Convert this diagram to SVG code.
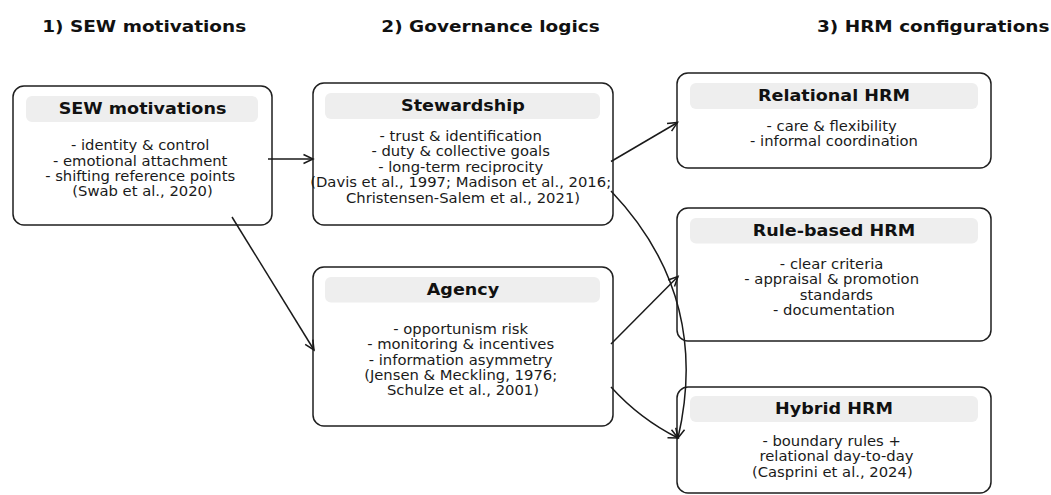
<svg xmlns="http://www.w3.org/2000/svg" width="1051" height="495" viewBox="0 0 1051 495">
  <defs>
    <style>
      .box { fill: #ffffff; stroke: #1f1f1f; stroke-width: 1.5; }
      .head { fill: #eeeeee; stroke: none; }
      .title { font-family: "DejaVu Sans", "Noto Sans", sans-serif; font-weight: bold; font-size: 16.5px; fill: #111111; }
      .htxt { font-family: "DejaVu Sans", "Noto Sans", sans-serif; font-weight: bold; font-size: 15.7px; fill: #111111; text-anchor: middle; }
      .body { font-family: "DejaVu Sans", "Noto Sans", sans-serif; font-size: 13.2px; fill: #1a1a1a; text-anchor: middle; }
      .link { fill: none; stroke: #1a1a1a; stroke-width: 1.5; marker-end: url(#arrow); }
    </style>
    <marker id="arrow" markerUnits="userSpaceOnUse" markerWidth="14" markerHeight="14" refX="10" refY="5" orient="auto" viewBox="0 0 14 10" overflow="visible">
      <path d="M0.5,0.5 L10,5 L0.5,9.5" fill="none" stroke="#1a1a1a" stroke-width="1.5" stroke-linejoin="miter"/>
    </marker>
  </defs>

  <!-- column titles (text widened horizontally to match layout) -->
  <g id="column-titles">
    <g transform="translate(144.2,32) scale(1.12,1)"><text class="title" text-anchor="middle" x="0" y="0">1) SEW motivations</text></g>
    <g transform="translate(490.5,32) scale(1.12,1)"><text class="title" text-anchor="middle" x="0" y="0">2) Governance logics</text></g>
    <g transform="translate(1049.5,32) scale(1.12,1)"><text class="title" text-anchor="end" x="0" y="0">3) HRM configurations</text></g>
  </g>

  <!-- SEW motivations -->
  <g id="node-sew">
    <rect class="box" x="13" y="86" width="259" height="139" rx="11"/>
    <rect class="head" x="26" y="96" width="232" height="26" rx="6"/>
    <g transform="translate(142.5,0) scale(1.12,1)">
      <text class="htxt" x="0" y="114.5">SEW motivations</text>
      <text class="body">
        <tspan x="0" y="150.5">- identity &amp; control</tspan>
        <tspan x="0" y="165.8">- emotional attachment</tspan>
        <tspan x="0" y="181.1">- shifting reference points</tspan>
        <tspan x="0" y="196.4">(Swab et al., 2020)</tspan>
      </text>
    </g>
  </g>

  <!-- Stewardship -->
  <g id="node-stewardship">
    <rect class="box" x="313" y="83" width="300" height="142" rx="11"/>
    <rect class="head" x="325" y="93" width="275" height="26" rx="6"/>
    <g transform="translate(463,0) scale(1.12,1)">
      <text class="htxt" x="0" y="111.5">Stewardship</text>
      <text class="body">
        <tspan x="0" y="141">- trust &amp; identification</tspan>
        <tspan x="0" y="156.5">- duty &amp; collective goals</tspan>
        <tspan x="0" y="172">- long-term reciprocity</tspan>
        <tspan x="0" y="187.5">(Davis et al., 1997; Madison et al., 2016;</tspan>
        <tspan x="0" y="203">Christensen-Salem et al., 2021)</tspan>
      </text>
    </g>
  </g>

  <!-- Agency -->
  <g id="node-agency">
    <rect class="box" x="313" y="267" width="300" height="159" rx="11"/>
    <rect class="head" x="325" y="277" width="275" height="25.5" rx="6"/>
    <g transform="translate(463,0) scale(1.12,1)">
      <text class="htxt" x="0" y="295.5">Agency</text>
      <text class="body">
        <tspan x="0" y="334">- opportunism risk</tspan>
        <tspan x="0" y="349.3">- monitoring &amp; incentives</tspan>
        <tspan x="0" y="364.6">- information asymmetry</tspan>
        <tspan x="0" y="379.9">(Jensen &amp; Meckling, 1976;</tspan>
        <tspan x="0" y="395.2">Schulze et al., 2001)</tspan>
      </text>
    </g>
  </g>

  <!-- Relational HRM -->
  <g id="node-relational">
    <rect class="box" x="677" y="73" width="314" height="95" rx="11"/>
    <rect class="head" x="690" y="83" width="288" height="26" rx="6"/>
    <g transform="translate(834,0) scale(1.12,1)">
      <text class="htxt" x="0" y="101.5">Relational HRM</text>
      <text class="body">
        <tspan x="0" y="130.8">- care &amp; flexibility</tspan>
        <tspan x="0" y="146.1">- informal coordination</tspan>
      </text>
    </g>
  </g>

  <!-- Rule-based HRM -->
  <g id="node-rulebased">
    <rect class="box" x="677" y="208" width="314" height="133" rx="11"/>
    <rect class="head" x="690" y="218" width="288" height="25.5" rx="6"/>
    <g transform="translate(834,0) scale(1.12,1)">
      <text class="htxt" x="0" y="236.5">Rule-based HRM</text>
      <text class="body">
        <tspan x="0" y="269.2">- clear criteria</tspan>
        <tspan x="0" y="284.5">- appraisal &amp; promotion</tspan>
        <tspan x="4.3" y="299.8">standards</tspan>
        <tspan x="0" y="315.1">- documentation</tspan>
      </text>
    </g>
  </g>

  <!-- Hybrid HRM -->
  <g id="node-hybrid">
    <rect class="box" x="677" y="387" width="314" height="106" rx="11"/>
    <rect class="head" x="690" y="396" width="288" height="26" rx="6"/>
    <g transform="translate(834,0) scale(1.12,1)">
      <text class="htxt" x="0" y="414.5">Hybrid HRM</text>
      <text class="body">
        <tspan x="0" y="446">- boundary rules +</tspan>
        <tspan x="4.3" y="461.3">relational day-to-day</tspan>
        <tspan x="-1.5" y="476.6">(Casprini et al., 2024)</tspan>
      </text>
    </g>
  </g>

  <!-- connectors -->
  <g id="connectors">
    <path class="link" d="M268,159 L313,159"/>
    <path class="link" d="M232,217 L314,350"/>
    <path class="link" d="M611,161.5 L677.5,122.5"/>
    <path class="link" d="M611,191 Q711,296 678,438"/>
    <path class="link" d="M611,344 L678,276.5"/>
    <path class="link" d="M611,387 Q640,419 678,438"/>
  </g>
</svg>
